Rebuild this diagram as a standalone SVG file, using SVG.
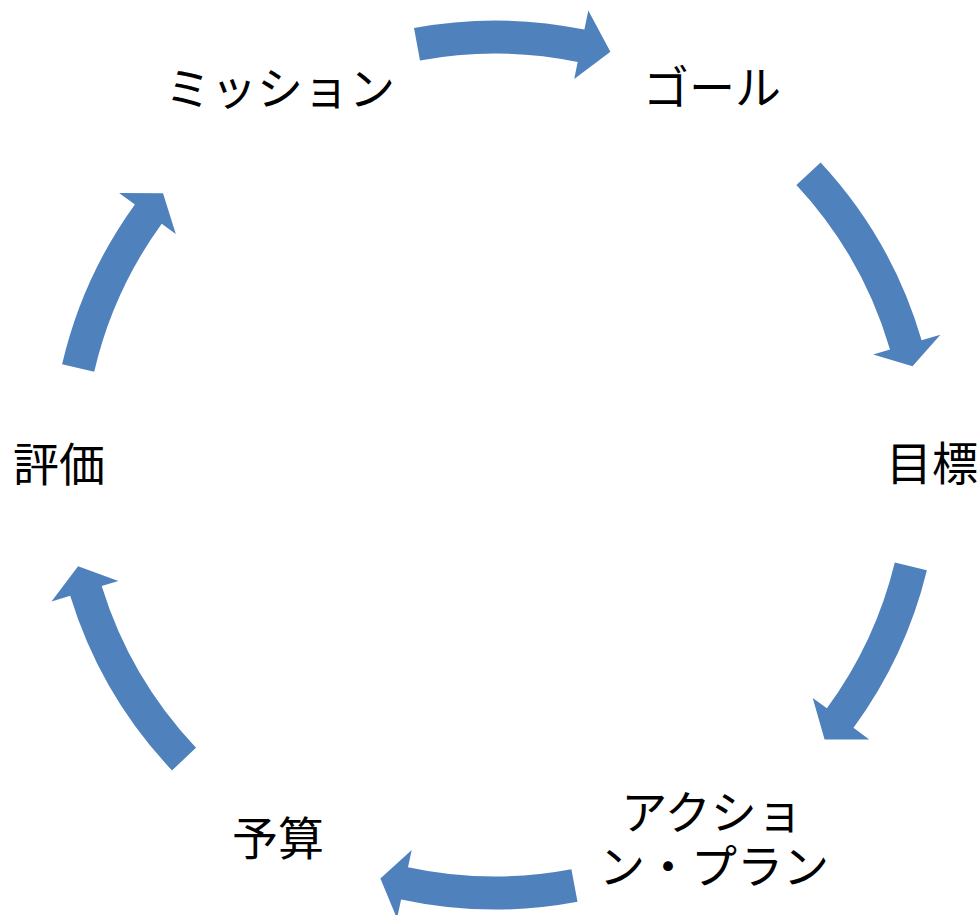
<svg xmlns="http://www.w3.org/2000/svg" width="980" height="915" viewBox="0 0 980 915">
<style>
.arr{fill:#4F81BD;stroke:none}
.lbl{font-family:"Noto Sans CJK JP","Noto Sans",sans-serif;font-size:46px;fill:#000;text-anchor:middle}
</style>
<rect width="980" height="915" fill="#fff"/>
<g id="connectors">
<path class="arr" d="M414.0,28.0 A444.5,444.5 0 0 1 584.4,29.6 L588.3,10.5 L610.4,51.8 L574.2,79.0 L577.7,61.9 A411.5,411.5 0 0 0 420.0,60.4 Z"/>
<path class="arr" d="M820.6,162.4 A444.5,444.5 0 0 1 921.6,340.2 L940.4,334.8 L912.5,366.3 L873.2,354.4 L890.0,349.5 A411.5,411.5 0 0 0 796.4,184.9 Z"/>
<path class="arr" d="M926.9,570.3 A444.5,444.5 0 0 1 853.5,727.8 L869.2,739.4 L824.6,739.6 L812.7,698.0 L826.9,708.3 A411.5,411.5 0 0 0 894.8,562.5 Z"/>
<path class="arr" d="M577.5,901.8 A444.5,444.5 0 0 1 401.1,899.5 L397.0,918.5 L380.4,878.4 L411.7,850.1 L408.0,867.2 A411.5,411.5 0 0 0 571.4,869.3 Z"/>
<path class="arr" d="M172.0,770.4 A444.5,444.5 0 0 1 70.2,595.7 L51.5,601.4 L78.1,566.2 L118.4,580.9 L101.7,586.0 A411.5,411.5 0 0 0 196.0,747.7 Z"/>
<path class="arr" d="M62.1,364.3 A444.5,444.5 0 0 1 134.9,204.4 L119.1,192.9 L163.0,193.3 L175.8,234.0 L161.7,223.7 A411.5,411.5 0 0 0 94.2,371.7 Z"/>
</g>
<g id="node-mission"><text class="lbl" x="280" y="105">ミッション</text></g>
<g id="node-goal"><text class="lbl" x="712" y="104">ゴール</text></g>
<g id="node-target"><text class="lbl" x="932" y="480">目標</text></g>
<g id="node-actionplan"><text class="lbl"><tspan x="712" y="829">アクショ</tspan><tspan x="714" y="883">ン・プラン</tspan></text></g>
<g id="node-budget"><text class="lbl" x="278" y="855">予算</text></g>
<g id="node-evaluation"><text class="lbl" x="59" y="481">評価</text></g>
</svg>
